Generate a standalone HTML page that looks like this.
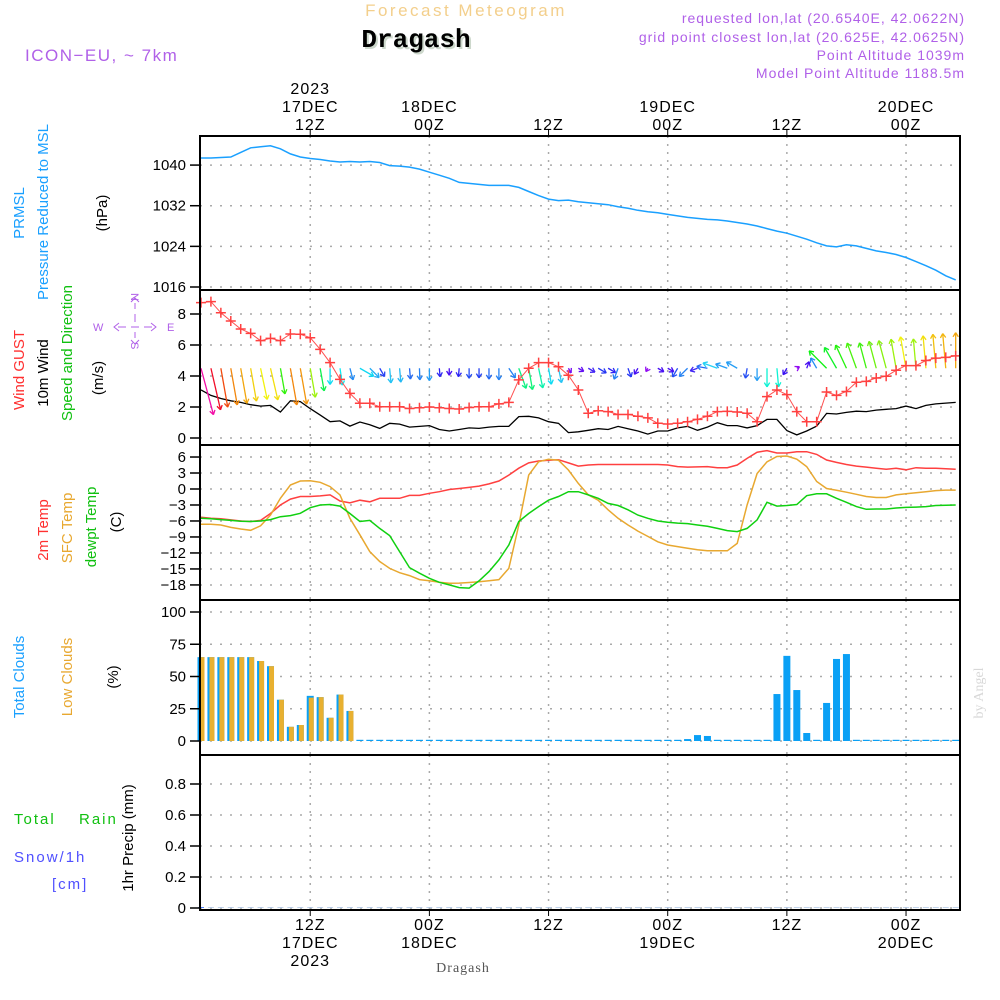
<!DOCTYPE html>
<html><head><meta charset="utf-8"><style>
body{margin:0;background:#fff}
svg{display:block;font-family:"Liberation Sans",sans-serif}
</style></head><body>
<svg id="chart" width="1000" height="1000" viewBox="0 0 1000 1000" xmlns="http://www.w3.org/2000/svg">
<g id="grid"></g>
<g id="marks"></g>
<g id="axes"></g>
<g>
<text x="466" y="16" text-anchor="middle" font-size="17" fill="#f3cf8c" letter-spacing="2.5">Forecast Meteogram</text>
<text x="418" y="49" text-anchor="middle" font-size="26" font-weight="bold" font-family="Liberation Mono,monospace" fill="#cdd8cc">Dragash</text>
<text x="416" y="47" text-anchor="middle" font-size="26" font-weight="bold" font-family="Liberation Mono,monospace" fill="#000">Dragash</text>
<text x="25" y="61" font-size="17" fill="#b060e8" letter-spacing="1.5">ICON−EU, ~ 7km</text>
<g font-size="14" fill="#b060e8" text-anchor="end" letter-spacing="1">
<text x="965" y="23">requested lon,lat (20.6540E, 42.0622N)</text>
<text x="965" y="42">grid point closest lon,lat (20.625E, 42.0625N)</text>
<text x="965" y="60">Point Altitude 1039m</text>
<text x="965" y="78">Model Point Altitude 1188.5m</text>
</g>
</g>
<g font-size="15">
<text transform="translate(24,213) rotate(-90)" text-anchor="middle" fill="#1aa0ff">PRMSL</text>
<text transform="translate(48,212) rotate(-90)" text-anchor="middle" fill="#1aa0ff">Pressure Reduced to MSL</text>
<text transform="translate(107,213) rotate(-90)" text-anchor="middle" fill="#000">(hPa)</text>
<text transform="translate(24,370) rotate(-90)" text-anchor="middle" fill="#ff3030">Wind GUST</text>
<text transform="translate(48,373) rotate(-90)" text-anchor="middle" fill="#000">10m Wind</text>
<text transform="translate(72,353) rotate(-90)" text-anchor="middle" fill="#10c010">Speed and Direction</text>
<text transform="translate(103,378) rotate(-90)" text-anchor="middle" fill="#000">(m/s)</text>
<g fill="#b060e8" stroke="none" font-size="11">
<text x="93" y="331">W</text><text x="167" y="331">E</text>
<text transform="translate(131,293) rotate(90)">N</text>
<text transform="translate(131,342) rotate(90)">S</text>
<g stroke="#b060e8" stroke-width="1" fill="none">
<path d="M118 327h8M131 327h8M144 327h8"/>
<path d="M119 323l-5 4 5 4M151 323l5 4-5 4"/>
<path d="M135 303v6M135 314v8M135 332v6"/>
<path d="M131 302l4-4 4 4M131 340l4 4 4-4"/>
</g>
</g>
<text transform="translate(48,530) rotate(-90)" text-anchor="middle" fill="#ff3030">2m Temp</text>
<text transform="translate(72,528) rotate(-90)" text-anchor="middle" fill="#e8a830">SFC Temp</text>
<text transform="translate(96,527) rotate(-90)" text-anchor="middle" fill="#10c010">dewpt Temp</text>
<text transform="translate(121,522) rotate(-90)" text-anchor="middle" fill="#000">(C)</text>
<text transform="translate(24,677) rotate(-90)" text-anchor="middle" fill="#1aa0ff">Total Clouds</text>
<text transform="translate(72,677) rotate(-90)" text-anchor="middle" fill="#e8a830">Low Clouds</text>
<text transform="translate(118,677) rotate(-90)" text-anchor="middle" fill="#000">(%)</text>
<text x="14" y="824" fill="#10c010" letter-spacing="2">Total</text>
<text x="79" y="824" fill="#10c010" letter-spacing="2">Rain</text>
<text x="14" y="862" fill="#5050ff" letter-spacing="2">Snow/1h</text>
<text x="52" y="889" fill="#5050ff" letter-spacing="2">[cm]</text>
<text transform="translate(133,838) rotate(-90)" text-anchor="middle" fill="#000">1hr Precip (mm)</text>
</g>
<text transform="translate(983,693) rotate(-90)" text-anchor="middle" font-size="14" font-family="Liberation Serif,serif" fill="#d8d8d8">by Angel</text>
<text x="463" y="972" text-anchor="middle" font-size="14" font-family="Liberation Serif,serif" fill="#555" letter-spacing="1">Dragash</text>
</svg>
<script>
const pressure=[1041.4,1041.4,1041.5,1041.6,1042.5,1043.4,1043.6,1043.8,1043.2,1042.2,1041.6,1041.3,1041.1,1040.8,1040.6,1040.7,1040.6,1040.7,1040.5,1039.9,1039.8,1039.6,1039.2,1038.6,1038.0,1037.4,1036.6,1036.4,1036.2,1036.0,1036.0,1036.0,1035.6,1034.8,1034.0,1033.3,1033.0,1033.1,1032.8,1032.6,1032.4,1032.2,1031.8,1031.5,1031.1,1030.8,1030.6,1030.3,1030.0,1029.7,1029.5,1029.3,1029.2,1029.0,1028.7,1028.4,1028.0,1027.5,1027.0,1026.6,1026.0,1025.4,1024.7,1024.1,1023.9,1024.3,1024.1,1023.6,1023.1,1022.8,1022.4,1021.8,1021.0,1020.2,1019.3,1018.2,1017.4];
const gust=[8.73,8.8,8.08,7.55,7.03,6.75,6.28,6.43,6.28,6.71,6.69,6.47,5.72,4.86,3.78,2.88,2.24,2.24,2.02,2.02,2.02,1.9,1.95,2.0,1.95,1.9,1.87,1.97,2.02,2.02,2.2,2.3,3.75,4.5,4.86,4.86,4.6,4.05,3.1,1.6,1.76,1.7,1.52,1.52,1.4,1.3,0.95,0.9,0.95,1.05,1.2,1.4,1.7,1.72,1.68,1.6,1.05,2.67,3.1,2.8,1.7,1.05,1.05,2.97,2.75,3.0,3.6,3.65,3.87,3.98,4.37,4.67,4.67,5.0,5.15,5.2,5.3];
const wind=[3.1,2.75,2.55,2.4,2.3,2.15,2.06,2.1,1.68,2.4,2.35,1.9,1.48,1.05,1.1,0.77,1.03,0.85,0.62,0.95,0.9,0.7,0.75,0.8,0.55,0.45,0.55,0.65,0.62,0.7,0.75,0.75,1.38,1.4,1.3,1.05,0.95,0.35,0.4,0.5,0.6,0.55,0.75,0.6,0.45,0.25,0.45,0.45,0.65,0.75,0.5,0.7,0.99,0.8,0.8,0.65,0.8,1.2,1.2,0.48,0.2,0.45,0.77,1.59,1.55,1.65,1.73,1.7,1.8,1.85,1.9,2.06,1.9,2.1,2.2,2.25,2.3];
const windDir=[165,167,170,170,170,170,168,167,170,170,170,170,170,180,172,165,120,135,150,175,175,175,178,180,175,180,185,180,180,180,180,146,160,170,168,170,168,150,120,120,120,120,200,160,210,210,120,120,210,225,250,280,290,290,300,190,180,180,175,210,60,20,330,315,330,335,340,345,345,345,350,350,355,355,355,355,360];
const t2m=[-5.3,-5.5,-5.6,-5.8,-6.0,-6.1,-5.9,-4.6,-3.0,-1.9,-1.4,-1.4,-1.3,-1.1,-2.25,-2.6,-2.1,-2.4,-1.75,-1.75,-1.75,-1.2,-1.2,-0.8,-0.5,-0.1,0.1,0.3,0.55,0.95,1.5,2.6,3.9,4.9,5.25,5.4,5.5,4.9,4.3,4.5,4.6,4.6,4.6,4.6,4.6,4.6,4.6,4.5,4.2,4.1,4.15,4.2,4.0,4.0,4.5,5.75,6.9,7.2,6.75,6.75,7.0,7.0,6.5,5.45,5.0,4.6,4.3,4.1,3.9,3.7,3.9,3.6,4.0,3.9,3.9,3.8,3.7];
const tsfc=[-6.6,-6.6,-6.75,-7.2,-7.5,-7.75,-6.9,-4.9,-1.75,0.75,1.5,1.56,1.25,0.45,-1.1,-5.5,-8.6,-11.75,-13.6,-14.9,-15.7,-16.25,-17.0,-17.2,-17.5,-17.7,-17.65,-17.55,-17.4,-17.2,-17.0,-14.9,-6.75,2.6,5.1,5.6,5.4,3.56,1.05,-1.1,-2.1,-3.9,-5.5,-6.75,-7.9,-8.9,-9.9,-10.5,-10.8,-11.1,-11.4,-11.6,-11.6,-11.6,-10.2,-3.0,2.9,5.1,6.1,6.2,5.6,4.2,1.4,0.1,-0.25,-0.6,-1.0,-1.4,-1.6,-1.6,-1.1,-0.9,-0.7,-0.5,-0.3,-0.2,-0.2];
const dewpt=[-5.5,-5.6,-5.75,-5.9,-6.05,-6.1,-6.0,-5.75,-5.2,-5.0,-4.56,-3.5,-3.0,-2.9,-3.2,-4.6,-6.1,-5.9,-7.4,-8.75,-11.75,-14.75,-15.8,-16.75,-17.5,-18.0,-18.5,-18.6,-17.25,-15.5,-13.3,-10.5,-6.1,-4.6,-3.3,-2.1,-1.4,-0.5,-0.5,-1.1,-1.75,-2.7,-3.1,-3.9,-4.9,-5.5,-6.0,-6.25,-6.4,-6.5,-6.75,-7.0,-7.4,-7.8,-8.0,-7.4,-5.8,-2.5,-3.2,-3.1,-2.9,-1.25,-0.9,-0.9,-1.75,-2.5,-3.3,-3.8,-3.75,-3.75,-3.56,-3.45,-3.4,-3.3,-3.1,-3.05,-3.0];
const totalClouds=[65,65,65,65,65,65,62,58,32,11,12.4,35,34,18,36,23.3,0,0,0,0,0,0,0,0,0,0,0,0,0,0,0,0,0,0,0,0,0,0,0,0,0,0,0,0,0,0,0,0,0,1.5,4.6,3.9,0,0,0,0,0,0,36.4,66,39.5,6.2,0,29.5,63.6,67.4,0,0,0,0,0,0,0,0,0,0,0];
const lowClouds=[65,65,65,65,65,65,62,58,32,11,12.4,33.6,34,18,36,23.3,0,0,0,0,0,0,0,0,0,0,0,0,0,0,0,0,0,0,0,0,0,0,0,0,0,0,0,0,0,0,0,0,0,0,0,0,0,0,0,0,0,0,0,0,0,0,0,0,0,0,0,0,0,0,0,0,0,0,0,0,0];
const precip=[0.002,0,0,0,0,0,0,0,0,0,0,0,0,0,0,0,0,0,0,0,0,0,0,0,0,0,0,0,0,0,0,0,0,0,0,0,0,0,0,0,0,0,0,0,0,0,0,0,0,0,0,0,0,0,0,0,0,0,0,0,0,0,0,0,0,0,0,0,0,0,0,0,0,0,0,0,0];
const pTicks=[1016,1024,1032,1040];
const wTicks=[0,2,4,6,8];
const tTicks=[6,3,0,-3,-6,-9,-12,-15,-18];
const cTicks=[0,25,50,75,100];
const rTicks=[0,0.2,0.4,0.6,0.8];
const timeTicks=[11,23,35,47,59,71];
const topTimeLabels=[["2023","17DEC","12Z"],["","18DEC","00Z"],["","","12Z"],["","19DEC","00Z"],["","","12Z"],["","20DEC","00Z"]];
const botTimeLabels=[["12Z","17DEC","2023"],["00Z","18DEC",""],["12Z","",""],["00Z","19DEC",""],["12Z","",""],["00Z","20DEC",""]];

const NS="http://www.w3.org/2000/svg";
const X0=201,DX=9.93,L=200,R=960;
const xs=i=>X0+DX*i;
const yP=v=>287-(v-1016)*5.08;
const yW=v=>438-v*15.5;
const yT=v=>489-v*5.33;
const yC=v=>741-v*1.29;
const yR=v=>908-v*155;
const panels=[[136,290],[290,445],[445,600],[600,755],[755,910]];
function el(tag,attrs,parent){const e=document.createElementNS(NS,tag);for(const k in attrs)e.setAttribute(k,attrs[k]);parent.appendChild(e);return e;}
const grid=document.getElementById('grid'),marks=document.getElementById('marks'),axes=document.getElementById('axes');

function hGrid(ticks,f,fmt,name){
  ticks.forEach(t=>{
    const y=f(t);
    const g=el('line',{x1:L,x2:R,y1:y,y2:y,stroke:'#aaa','stroke-width':1.5,'stroke-dasharray':'2 8'},grid);
    
    
    el('line',{x1:190,x2:L,y1:y,y2:y,stroke:'#000','stroke-width':1.5},axes);
    const tx=el('text',{x:186,y:y+5,'text-anchor':'end','font-size':15,fill:'#000'},axes);
    tx.textContent=fmt(t).replace('-','−');
    
    
  });
}
hGrid(pTicks,yP,t=>String(t),'pressure');
hGrid(wTicks,yW,t=>String(t),'wind');
hGrid(tTicks,yT,t=>String(t),'temp');
hGrid(cTicks,yC,t=>String(t),'cloud');
hGrid(rTicks,yR,t=>t.toFixed(1).replace('0.0','0'),'precip');

timeTicks.forEach((ti,k)=>{
  const x=xs(ti);
  panels.forEach(p=>{
    const v=el('line',{x1:x,x2:x,y1:p[0],y2:p[1],stroke:'#aaa','stroke-width':1.5,'stroke-dasharray':'2 6'},grid);
    
    
  });
  el('line',{x1:x,x2:x,y1:129,y2:136,stroke:'#000','stroke-width':1},axes);
  el('line',{x1:x,x2:x,y1:910,y2:916,stroke:'#000','stroke-width':1},axes);
  topTimeLabels[k].forEach((s,j)=>{
    if(!s)return;
    const t=el('text',{x:x,y:94+j*18,'text-anchor':'middle','font-size':16,fill:'#000','letter-spacing':1},axes);
    t.textContent=s;
    
    
  });
  botTimeLabels[k].forEach((s,j)=>{
    if(!s)return;
    const t=el('text',{x:x,y:930+j*18,'text-anchor':'middle','font-size':16,fill:'#000','letter-spacing':1},axes);
    t.textContent=s;
    
    
  });
});

function line(arr,fy,color,name,w){
  const d=arr.map((v,i)=>(i?'L':'M')+xs(i).toFixed(1)+' '+fy(v).toFixed(1)).join(' ');
  const p=el('path',{d:d,fill:'none',stroke:color,'stroke-width':w||1.5},marks);
  
  
}
line(pressure,yP,'#1aa0ff','pressure-line');
totalClouds.forEach((v,i)=>{
  const x=xs(i),h=Math.max(v*1.29,1.2);
  const b=el('rect',{x:x-3.5,y:741-h,width:7,height:h,fill:'#0aa0f5'},marks);
  
  
  const lv=lowClouds[i],lh=lv*1.29;
  if(lh>0){
    const o=el('rect',{x:x-1.5,y:741-lh,width:5,height:lh,fill:'#e8b030'},marks);
    
    
  }
});
precip.forEach((v,i)=>{
  const h=Math.max(v*155,0.8);
  const b=el('rect',{x:xs(i)-3,y:908-h,width:6,height:h,fill:v>0?'#2060ff':'#b0c8e8'},marks);
  
  
});
line(t2m,yT,'#ff4040','temp-2m-line');
line(tsfc,yT,'#e8a830','temp-sfc-line');
line(dewpt,yT,'#10d010','dewpoint-line');
line(wind,yW,'#000','wind-speed-line',1.3);
const hueS=[0.3,0.6,0.8,1.1,1.3,1.6,1.9,2.1,2.4,2.7,3.0];
const hueH=[275,235,205,182,162,120,82,55,32,0,-40];
function windColor(s){
  let h;
  if(s<=hueS[0])h=hueH[0];else if(s>=hueS[hueS.length-1])h=hueH[hueH.length-1];
  else{for(let k=0;k<hueS.length-1;k++){if(s>=hueS[k]&&s<=hueS[k+1]){h=hueH[k]+(hueH[k+1]-hueH[k])*(s-hueS[k])/(hueS[k+1]-hueS[k]);break;}}}
  if(h<0)h+=360;
  const light=(h>190&&h<250)?55:50;
  return 'hsl('+h.toFixed(0)+',90%,'+light+'%)';
}
wind.forEach((s,i)=>{
  const a=windDir[i]*Math.PI/180,len=s*15.5;
  const x1=xs(i),y1=yW(4.5);
  const x2=x1+Math.sin(a)*len,y2=y1-Math.cos(a)*len;
  const c=windColor(s);
  const g=el('g',{stroke:c,'stroke-width':1.3,fill:'none'},marks);
  
  
  el('line',{x1:x1,y1:y1,x2:x2,y2:y2},g);
  const hl=5,b=Math.PI*0.82;
  [a+b,a-b].forEach(q=>el('line',{x1:x2,y1:y2,x2:x2+Math.sin(q)*hl,y2:y2-Math.cos(q)*hl},g));
});
line(gust,yW,'#ff5050','wind-gust-line',1);
gust.forEach((v,i)=>{
  const x=xs(i),y=yW(v);
  const c=el('path',{d:`M${x-5} ${y}H${x+5}M${x} ${y-5}V${y+5}`,stroke:'#ff4040','stroke-width':1.5},marks);
  
  
});
panels.forEach(p=>{
  const r=el('rect',{x:L,y:p[0],width:R-L,height:p[1]-p[0],fill:'none',stroke:'#000','stroke-width':2},axes);
  
  
});
</script>
</body></html>
